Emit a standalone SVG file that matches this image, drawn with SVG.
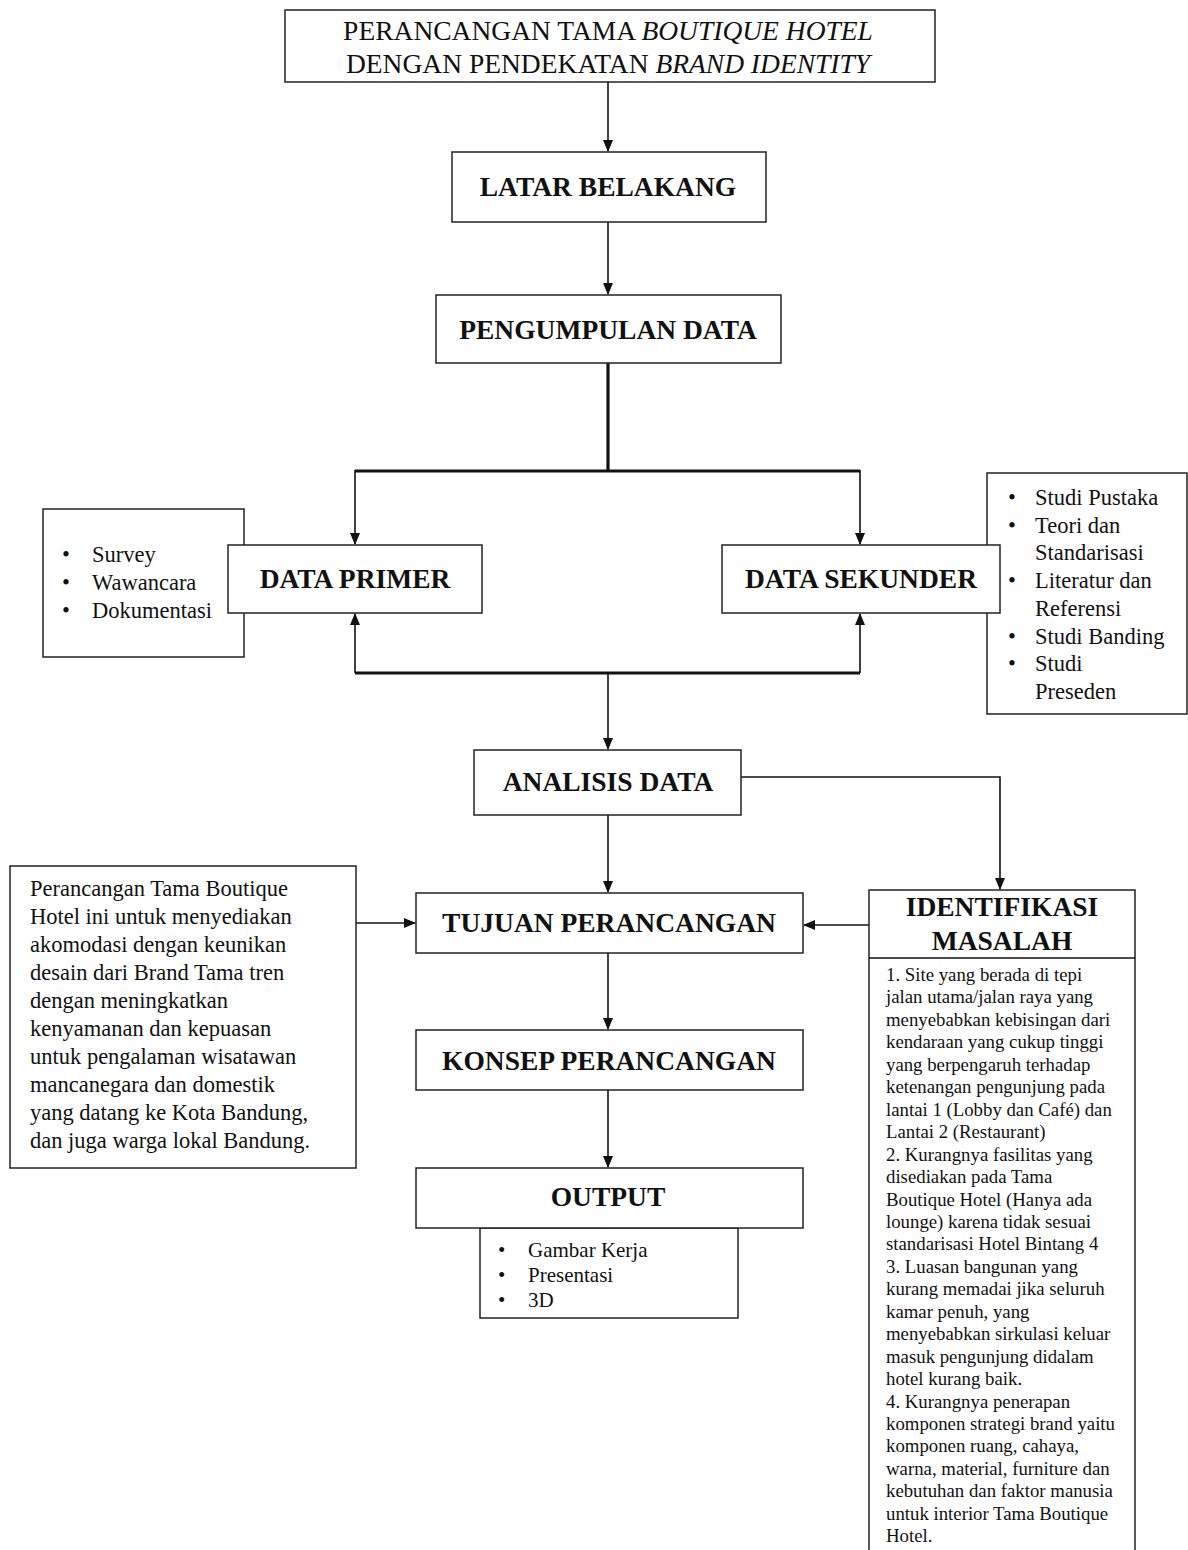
<svg xmlns="http://www.w3.org/2000/svg" width="1188" height="1550" viewBox="0 0 1188 1550">
<style>
.box{fill:#fff;stroke:#222;stroke-width:1.5}
.t{font-family:"Liberation Serif","Times New Roman",serif;fill:#111}
.h{font-weight:bold;font-size:27.5px;text-anchor:middle}
.title{font-size:27.5px;text-anchor:middle}
.li{font-size:22.5px}
.ol{font-size:21px}
.sm{font-size:18.8px}
.c{fill:none;stroke:#111;stroke-width:1.6}
.k{fill:none;stroke:#111;stroke-width:3.2}
</style>
<defs>
<marker id="a" markerUnits="userSpaceOnUse" markerWidth="12" markerHeight="12" viewBox="0 0 12 12" refX="11" refY="6" orient="auto">
<path d="M0,1 L12,6 L0,11 Z" fill="#111"/>
</marker>
</defs>
<rect width="1188" height="1550" fill="#fff"/>

<g id="connectors">
<path class="c" d="M608,82 V151" marker-end="url(#a)"/>
<path class="c" d="M608,222 V294" marker-end="url(#a)"/>
<path class="k" d="M608,363 V471 M355,471 H860"/>
<path class="c" d="M355,470 V544" marker-end="url(#a)"/>
<path class="c" d="M860,470 V544" marker-end="url(#a)"/>
<path class="k" d="M355,673 H860"/>
<path class="c" d="M355,673 V614" marker-end="url(#a)"/>
<path class="c" d="M860,673 V614" marker-end="url(#a)"/>
<path class="c" d="M608,673 V749" marker-end="url(#a)"/>
<path class="c" d="M608,815 V892" marker-end="url(#a)"/>
<path class="c" d="M741,777 H1000 V889" marker-end="url(#a)"/>
<path class="c" d="M356,923 H415" marker-end="url(#a)"/>
<path class="c" d="M869,925 H804" marker-end="url(#a)"/>
<path class="c" d="M608,953 V1029" marker-end="url(#a)"/>
<path class="c" d="M608,1090 V1167" marker-end="url(#a)"/>
</g>

<g id="title">
<rect class="box" x="285" y="10" width="650" height="72"/>
<text class="t title" x="608" y="40">PERANCANGAN TAMA <tspan font-style="italic">BOUTIQUE HOTEL</tspan></text>
<text class="t title" x="608" y="73">DENGAN PENDEKATAN <tspan font-style="italic">BRAND IDENTITY</tspan></text>
</g>

<g id="latar-belakang">
<rect class="box" x="452" y="152" width="314" height="70"/>
<text class="t h" x="608" y="196">LATAR BELAKANG</text>
</g>

<g id="pengumpulan-data">
<rect class="box" x="436" y="295" width="345" height="68"/>
<text class="t h" x="608" y="339">PENGUMPULAN  DATA</text>
</g>

<g id="primer-list">
<rect class="box" x="43" y="509" width="201" height="148"/>
<g class="t li">
<text x="62" y="562">•</text><text x="92" y="562">Survey</text>
<text x="62" y="590">•</text><text x="92" y="590">Wawancara</text>
<text x="62" y="618">•</text><text x="92" y="618">Dokumentasi</text>
</g>
</g>

<g id="data-primer">
<rect class="box" x="228" y="545" width="254" height="68"/>
<text class="t h" x="355" y="588">DATA PRIMER</text>
</g>

<g id="sekunder-list">
<rect class="box" x="987" y="473" width="200" height="241"/>
<g class="t li">
<text x="1008" y="505">•</text><text x="1035" y="505">Studi Pustaka</text>
<text x="1008" y="533">•</text><text x="1035" y="533">Teori  dan</text>
<text x="1035" y="560">Standarisasi</text>
<text x="1008" y="588">•</text><text x="1035" y="588">Literatur  dan</text>
<text x="1035" y="616">Referensi</text>
<text x="1008" y="644">•</text><text x="1035" y="644">Studi Banding</text>
<text x="1008" y="671">•</text><text x="1035" y="671">Studi</text>
<text x="1035" y="699">Preseden</text>
</g>
</g>

<g id="data-sekunder">
<rect class="box" x="722" y="545" width="278" height="68"/>
<text class="t h" x="861" y="588">DATA SEKUNDER</text>
</g>

<g id="analisis-data">
<rect class="box" x="474" y="750" width="267" height="65"/>
<text class="t h" x="608" y="791">ANALISIS DATA</text>
</g>

<g id="tujuan-text">
<rect class="box" x="10" y="866" width="346" height="302"/>
<g class="t li">
<text x="30" y="896">Perancangan Tama Boutique</text>
<text x="30" y="924">Hotel ini untuk menyediakan</text>
<text x="30" y="952">akomodasi  dengan keunikan</text>
<text x="30" y="980">desain dari Brand Tama  tren</text>
<text x="30" y="1008">dengan meningkatkan</text>
<text x="30" y="1036">kenyamanan  dan kepuasan</text>
<text x="30" y="1064">untuk pengalaman  wisatawan</text>
<text x="30" y="1092">mancanegara  dan domestik</text>
<text x="30" y="1120">yang datang ke Kota Bandung,</text>
<text x="30" y="1148">dan juga warga lokal  Bandung.</text>
</g>
</g>

<g id="tujuan-perancangan">
<rect class="box" x="416" y="893" width="387" height="60"/>
<text class="t h" x="609" y="932">TUJUAN  PERANCANGAN</text>
</g>

<g id="identifikasi-masalah">
<rect class="box" x="869" y="890" width="266" height="670"/>
<line class="c" x1="869" y1="958" x2="1135" y2="958"/>
<text class="t h" x="1002" y="916" font-size="28.5">IDENTIFIKASI</text>
<text class="t h" x="1002" y="950" font-size="28.5">MASALAH</text>
<g class="t sm">
<text x="886" y="981">1. Site yang berada di tepi</text>
<text x="886" y="1003">jalan utama/jalan raya yang</text>
<text x="886" y="1026">menyebabkan kebisingan dari</text>
<text x="886" y="1048">kendaraan yang cukup tinggi</text>
<text x="886" y="1071">yang berpengaruh terhadap</text>
<text x="886" y="1093">ketenangan pengunjung pada</text>
<text x="886" y="1116">lantai 1 (Lobby dan Café) dan</text>
<text x="886" y="1138">Lantai 2 (Restaurant)</text>
<text x="886" y="1161">2. Kurangnya fasilitas yang</text>
<text x="886" y="1183">disediakan pada Tama</text>
<text x="886" y="1206">Boutique Hotel (Hanya ada</text>
<text x="886" y="1228">lounge) karena tidak sesuai</text>
<text x="886" y="1250">standarisasi Hotel Bintang 4</text>
<text x="886" y="1273">3. Luasan bangunan yang</text>
<text x="886" y="1295">kurang memadai jika seluruh</text>
<text x="886" y="1318">kamar penuh, yang</text>
<text x="886" y="1340">menyebabkan sirkulasi keluar</text>
<text x="886" y="1363">masuk pengunjung didalam</text>
<text x="886" y="1385">hotel kurang baik.</text>
<text x="886" y="1408">4. Kurangnya penerapan</text>
<text x="886" y="1430">komponen strategi brand yaitu</text>
<text x="886" y="1452">komponen ruang, cahaya,</text>
<text x="886" y="1475">warna, material, furniture dan</text>
<text x="886" y="1497">kebutuhan dan faktor manusia</text>
<text x="886" y="1520">untuk interior Tama Boutique</text>
<text x="886" y="1542">Hotel.</text>
</g>
</g>

<g id="konsep-perancangan">
<rect class="box" x="416" y="1030" width="387" height="60"/>
<text class="t h" x="609" y="1070">KONSEP PERANCANGAN</text>
</g>

<g id="output">
<rect class="box" x="480" y="1228" width="258" height="90"/>
<rect class="box" x="416" y="1168" width="387" height="60"/>
<text class="t h" x="608" y="1206">OUTPUT</text>
<g class="t ol">
<text x="498" y="1257">•</text><text x="528" y="1257">Gambar Kerja</text>
<text x="498" y="1282">•</text><text x="528" y="1282">Presentasi</text>
<text x="498" y="1307">•</text><text x="528" y="1307">3D</text>
</g>
</g>
</svg>
